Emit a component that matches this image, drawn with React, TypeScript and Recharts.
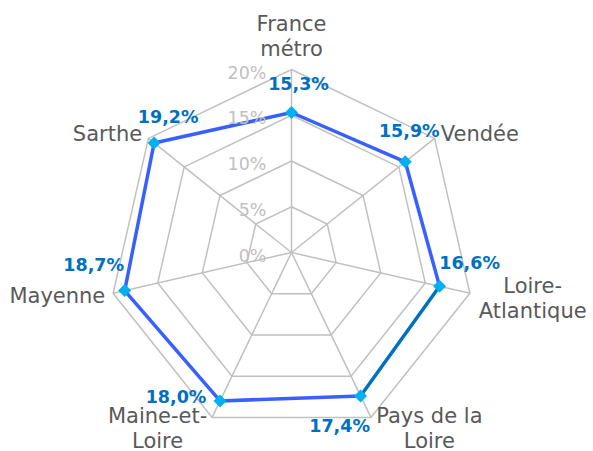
import { RadarChart, Radar, PolarGrid, PolarAngleAxis, PolarRadiusAxis } from 'recharts';

const categories = ['France métro', 'Vendée', 'Loire-Atlantique', 'Pays de la Loire', 'Maine-et-Loire', 'Mayenne', 'Sarthe'];
const categoryLines = [['France', 'métro'], ['Vendée'], ['Loire-', 'Atlantique'], ['Pays de la', 'Loire'], ['Maine-et-', 'Loire'], ['Mayenne'], ['Sarthe']];
const values = [15.3, 15.9, 16.6, 17.4, 18.0, 18.7, 19.2];
const valueLabels = ['15,3%', '15,9%', '16,6%', '17,4%', '18,0%', '18,7%', '19,2%'];
const radiusTicks = [0, 5, 10, 15, 20];
const radiusTickLabels = ['0%', '5%', '10%', '15%', '20%'];
const highlightIndex = 3;

// label placement around each marker (dx, dy of text centre/baseline)
const labelOffsets = [[7, -23], [4, -25], [30, -17], [-21, 36], [-44, 2], [-31, -20], [14, -20]];

const FONT = '"DejaVu Sans", Verdana, sans-serif';
const LINE = '#3860ff';
const LINE_DARK = '#0070c0';
const MARKER = '#00b0f0';

const data = categories.map((name, i) => ({ name, value: values[i] }));

function AngleTick(props: any) {
  const { x, y, textAnchor, index } = props;
  const lines = categoryLines[index];
  if (lines.length === 1) {
    return (
      <text x={x} y={y + 8} textAnchor={textAnchor} fontFamily={FONT} fontSize={21} fill="#595959">
        {lines[0]}
      </text>
    );
  }
  const shift = textAnchor === 'start' ? 55 : textAnchor === 'end' ? -51 : 0;
  const top = textAnchor === 'middle' ? y - 31 : y - 2;
  return (
    <text textAnchor="middle" fontFamily={FONT} fontSize={21} fill="#595959">
      {lines.map((l, i) => (
        <tspan key={i} x={x + shift} y={top + i * 25}>{l}</tspan>
      ))}
    </text>
  );
}

function RadiusTick(props: any) {
  const { x, y, payload } = props;
  const i = radiusTicks.indexOf(payload.value);
  return (
    <text x={x - 25} y={y + 9} textAnchor="end" fontFamily={FONT} fontSize={17.5} fill="#c0c0c0">
      {radiusTickLabels[i]}
    </text>
  );
}

function RadarShape(props: any) {
  const pts = props.points || [];
  const n = pts.length;
  return (
    <g>
      {pts.map((p: any, i: number) => {
        const j = (i + 1) % n;
        const q = pts[j];
        return (
          <line key={'l' + i} x1={p.x} y1={p.y} x2={q.x} y2={q.y}
            stroke={j === highlightIndex ? LINE_DARK : LINE} strokeWidth={3.5} strokeLinecap="round" />
        );
      })}
      {pts.map((p: any, i: number) => (
        <polygon key={'m' + i}
          points={`${p.x},${p.y - 6.5} ${p.x + 6.5},${p.y} ${p.x},${p.y + 6.5} ${p.x - 6.5},${p.y}`}
          fill={MARKER} />
      ))}
      {pts.map((p: any, i: number) => (
        <text key={'t' + i} x={p.x + labelOffsets[i][0]} y={p.y + labelOffsets[i][1]} textAnchor="middle"
          fontFamily={FONT} fontSize={17.5} fontWeight="bold" fill={LINE_DARK}>
          {valueLabels[i]}
        </text>
      ))}
    </g>
  );
}

export default function App() {
  return (
    <div style={{ position: 'absolute', left: 0, top: 0, width: 593, height: 451, background: '#fff' }}>
      <RadarChart width={593} height={451} data={data} cx={291.5} cy={252.5} outerRadius={183}
        margin={{ top: 0, right: 0, bottom: 0, left: 0 }}>
        <PolarGrid gridType="polygon" stroke="#c0c0c0" strokeWidth={1.5} />
        <PolarAngleAxis dataKey="name" tick={<AngleTick />} tickLine={false} axisLine={false} />
        <PolarRadiusAxis angle={90} domain={[0, 20]} ticks={radiusTicks} tickCount={5}
          axisLine={false} tick={<RadiusTick />} />
        <Radar dataKey="value" shape={RadarShape} dot={false} isAnimationActive={false} />
      </RadarChart>
    </div>
  );
}
